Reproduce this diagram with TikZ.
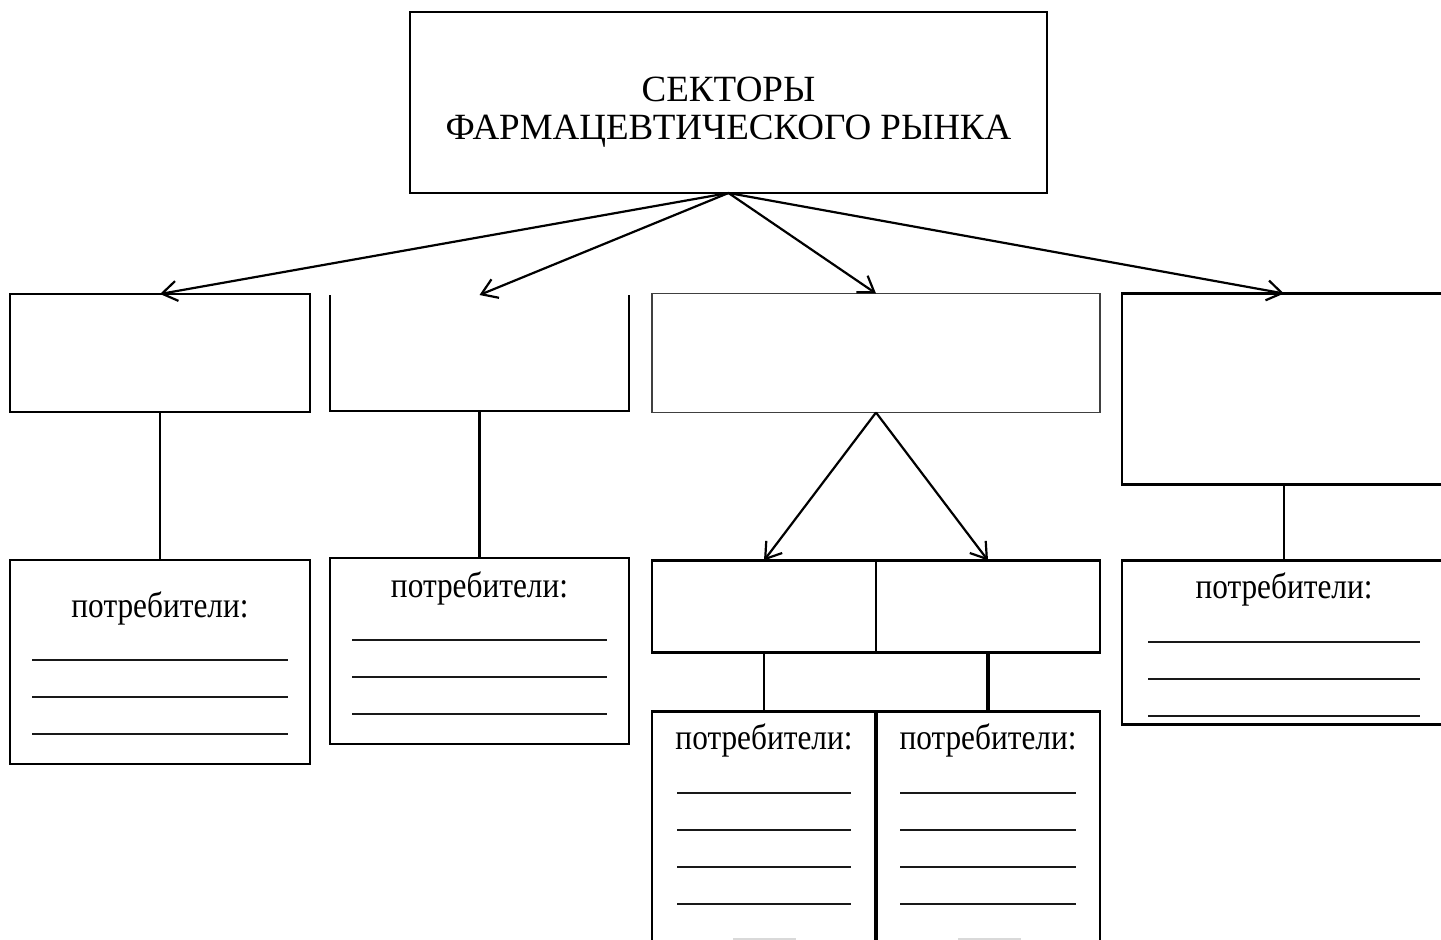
\documentclass[tikz,border=0pt]{standalone}
\usepackage{fontspec}
\setmainfont{Liberation Serif}
\newfontfamily\condfont[FakeStretch=0.87]{Liberation Serif}
\usetikzlibrary{arrows.meta,positioning}

\begin{document}
\begin{tikzpicture}[
 x=1pt, y=-1pt, >={Straight Barb[length=15pt,width=20pt]},
 box/.style={draw, line width=2.6pt, outer sep=0pt, inner sep=0pt},
 head/.style={box, line width=1.6pt},
 headtxt/.style={inner sep=0pt, align=center, font=\rmfamily\fontsize{37}{38}\selectfont},
 lbl/.style={anchor=base, inner sep=0pt, font=\condfont\fontsize{36}{38}\selectfont},
 blank/.style={line width=2pt, black!90},
 arr/.style={->, line width=2.2pt},
 link/.style={line width=2.2pt}]
\useasboundingbox (0,0) rectangle (1441,940);
\clip (0,0) rectangle (1441,940);
\node[head, minimum width=637pt, minimum height=181pt] (top) at (728.5,102.5) {};
\node[headtxt] (top-txt) at ([yshift=-9.5pt]top.center) {СЕКТОРЫ\\ФАРМАЦЕВТИЧЕСКОГО РЫНКА};
\node[box, minimum width=300pt, minimum height=118pt] (s1) at (160,353) {};
\node[box, draw=none, minimum width=299pt, minimum height=116pt, right=20pt of s1] (s2) {};
\node[box, line width=1.5pt, draw=black!75, minimum width=448pt, minimum height=119pt, right=23pt of s2] (s3) {};
\node[box, minimum width=324pt, minimum height=191pt, right=22pt of s3.north east, anchor=north west] (s4) {};
\draw[line width=2.6pt] (s2.north west) -- (s2.south west) -- (s2.south east) -- (s2.north east);
\node[box, minimum width=224pt, minimum height=92pt, below=148pt of s3.south west, anchor=north west] (s3a) {};
\node[box, minimum width=224pt, minimum height=92pt, right=0pt of s3a] (s3b) {};
\node[box, minimum width=300pt, minimum height=204pt, below=148pt of s1] (c1) {};
\node[box, minimum width=299pt, minimum height=186pt, below=147pt of s2] (c2) {};
\node[box, minimum width=324pt, minimum height=164pt, below=76pt of s4] (c4) {};
\node[box, minimum width=224pt, minimum height=260pt, below=59pt of s3a] (c3a) {};
\node[box, minimum width=224pt, minimum height=260pt, right=0pt of c3a] (c3b) {};
\draw[line width=3.6pt] (c3a.north east) -- (c3a.south east);
\foreach \b/\t/\l/\w/\n in {c1/57/100/256/3, c2/39/82/255/3, c4/38/81/272/3, c3a/38/81/174/4, c3b/38/81/176/4}{
  \node[lbl] (\b-lbl) at ([yshift=-\t pt]\b.north) {потребители:};
  \foreach \k in {1,...,\n}
    \draw[blank] ([xshift={-0.5*\w pt}, yshift={-\l pt-(\k-1)*37pt}]\b.north) -- ++(\w pt,0);
}
\fill[black!15] ([xshift=-31pt, yshift=-226pt]c3a.north) rectangle ++(63pt,-5pt);
\fill[black!15] ([xshift=-30pt, yshift=-226pt]c3b.north) rectangle ++(63pt,-5pt);
\draw[arr] (top.south) -- (s1.north);
\draw[arr] (top.south) -- (s2.north);
\draw[arr] (top.south) -- (s3.north);
\draw[arr] (top.south) -- (s4.north);
\draw[arr] (s3.south) -- (s3a.north);
\draw[arr] (s3.south) -- (s3b.north);
\draw[link] (s1) -- (c1);
\draw[link] (s2) -- (c2);
\draw[link] (s4) -- (c4);
\draw[link] (s3a) -- (c3a);
\draw[link, line width=3.6pt] (s3b) -- (c3b);
\end{tikzpicture}
\end{document}
